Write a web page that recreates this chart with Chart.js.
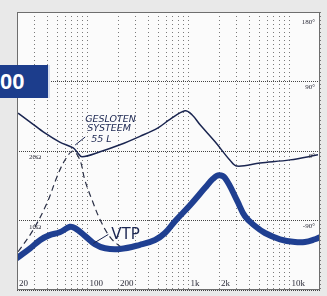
<!DOCTYPE html>
<html>
<head>
<meta charset="utf-8">
<script src="https://cdn.jsdelivr.net/npm/chart.js@4.4.1/dist/chart.umd.min.js"></script>
<style>
  html, body { margin: 0; padding: 0; background: #e9e9e9; }
  #wrap { position: relative; width: 327px; height: 296px; }
  #tag {
    position: absolute; left: 0; top: 65px; width: 48px; height: 33px;
    background: #1c3d8c; color: #fff; border-right: 2px solid #d9e0ee;
    font: bold 22px "Liberation Sans", Arial, sans-serif; line-height: 34px;
    overflow: hidden; white-space: nowrap;
  }
</style>
</head>
<body>
<div id="wrap">
  <canvas id="c" width="327" height="296"></canvas>
  <div id="tag">00</div>
</div>
<script>
// frequency axis (Hz), gridlines and labels
const freqGrid = [20,30,40,50,60,70,80,90,100,200,300,400,500,600,700,800,900,
  1000,2000,3000,4000,5000,6000,7000,8000,9000,10000,20000];
const freqTicks = [20, 100, 200, 1000, 2000, 10000];
const freqTickText = ['20', '100', '200', '1k', '2k', '10k'];
// impedance axis (ohm) and phase axis (degrees)
const ohmTicks = [20, 10];
const ohmTickText = ['20\u03a9', '10\u03a9'];
const degTicks = [180, 90, 0, -90];
const degTickText = ['180\u00b0', '90\u00b0', '0\u00b0', '-90\u00b0'];

// thin line (phase, degrees)
const phaseFreq = [20.5, 27, 38, 53, 72, 80, 88, 133, 209, 330, 498, 654, 921, 1080, 1300, 1830, 2570, 3010, 5100, 10100, 19100];
const phaseDeg  = [49, 37.5, 23, 11.5, 4, -2.5, -7.5, -1, 8, 19, 30, 41, 52, 47, 34, 12, -12, -19.5, -15.5, -11.5, -5];

// closed box 55 L (dashed, ohm)
const closedFreq = [20.5, 28.8, 39.6, 49.8, 59.7, 71.7, 84, 94, 111, 133, 167, 209, 251];
const closedOhm  = [5.5, 8.6, 12.5, 16.3, 18.7, 20, 18.7, 15.8, 12.9, 10.1, 7.6, 6.3, 5.8];

// VTP (thick, ohm)
const vtpFreq = [20, 27, 34, 42, 53, 67, 75, 94, 118, 149, 209, 330, 465, 584, 734, 1033, 1454, 1744, 2000, 2294, 3014, 3618, 4544, 5707, 8036, 11300, 14200, 17850, 20000];
const vtpOhm  = [4.6, 6.0, 7.2, 7.9, 8.3, 9.1, 8.9, 7.8, 6.6, 6.0, 5.9, 6.5, 7.2, 8.2, 9.9, 12.2, 14.7, 16.0, 16.5, 16.1, 12.9, 10.6, 9.2, 8.2, 7.3, 6.9, 6.9, 7.3, 7.6];

const pts = (xs, ys) => xs.map((x, i) => ({ x: x, y: ys[i] }));

const paper = {
  id: 'paper',
  beforeDraw(chart) {
    const { ctx, chartArea: a } = chart;
    ctx.save();
    ctx.fillStyle = '#fbfbfb';
    ctx.fillRect(a.left, a.top, a.right - a.left, a.bottom - a.top);
    ctx.restore();
  },
  afterDraw(chart) {
    const { ctx, chartArea: a, scales } = chart;
    const sx = scales.x, sy = scales.y, sp = scales.y2;
    ctx.save();
    // frame
    ctx.strokeStyle = '#6e6e6e';
    ctx.lineWidth = 1;
    ctx.strokeRect(a.left + 0.5, a.top + 0.5, a.right - a.left - 1, a.bottom - a.top - 1);

    ctx.fillStyle = '#2d2d3a';
    ctx.font = '9px "Liberation Serif", serif';
    ctx.textBaseline = 'alphabetic';
    ctx.textAlign = 'left';
    freqTicks.forEach((f, i) => {
      ctx.fillText(freqTickText[i], sx.getPixelForValue(f) + 2, a.bottom - 4);
    });
    ctx.font = '7px "Liberation Serif", serif';
    ohmTicks.forEach((v, i) => {
      ctx.fillText(ohmTickText[i], a.left + 12, sy.getPixelForValue(v) + 8);
    });
    ctx.textAlign = 'right';
    degTicks.forEach((v, i) => {
      const y = v === 180 ? sp.getPixelForValue(v) + 12 : sp.getPixelForValue(v) + 7;
      ctx.fillText(degTickText[i], a.right - 5, y);
    });

    // annotations
    ctx.strokeStyle = '#1a2550';
    ctx.fillStyle = '#1a2550';
    ctx.lineWidth = 1;
    const jx = sx.getPixelForValue(72), jy = sy.getPixelForValue(20);
    ctx.beginPath();
    ctx.moveTo(jx + 2, jy - 6);
    ctx.lineTo(jx + 12, jy - 14);
    ctx.stroke();
    ctx.textAlign = 'left';
    ctx.font = 'italic 9.5px "DejaVu Sans", sans-serif';
    ctx.fillText('GESLOTEN', jx + 12, jy - 29);
    ctx.fillText('SYSTEEM', jx + 14, jy - 20);
    ctx.fillText('55 L', jx + 18, jy - 9);

    const vx = sx.getPixelForValue(114), vy = sy.getPixelForValue(6.7);
    ctx.beginPath();
    ctx.moveTo(vx, vy);
    ctx.lineTo(vx + 15, vy - 9);
    ctx.stroke();
    ctx.font = '15px "DejaVu Sans", sans-serif';
    ctx.fillText('VTP', vx + 18, vy - 4);
    ctx.restore();
  }
};

new Chart(document.getElementById('c'), {
  type: 'line',
  data: {
    datasets: [
      {
        label: 'VTP',
        data: pts(vtpFreq, vtpOhm),
        yAxisID: 'y',
        borderColor: '#1f3f91',
        borderWidth: 6,
        pointRadius: 0,
        tension: 0.4,
        borderCapStyle: 'round'
      },
      {
        label: 'Gesloten systeem 55 L',
        data: pts(closedFreq, closedOhm),
        yAxisID: 'y',
        borderColor: '#2a2f45',
        borderWidth: 1.2,
        borderDash: [6, 4],
        pointRadius: 0,
        tension: 0.35
      },
      {
        label: 'Fase',
        data: pts(phaseFreq, phaseDeg),
        yAxisID: 'y2',
        borderColor: '#1a2550',
        borderWidth: 1.5,
        pointRadius: 0,
        tension: 0.35
      }
    ]
  },
  options: {
    responsive: false,
    animation: false,
    layout: { padding: { left: 17, top: 12, right: 7, bottom: 6 } },
    plugins: { legend: { display: false }, tooltip: { enabled: false } },
    scales: {
      x: {
        type: 'logarithmic',
        min: 20,
        max: 20000,
        afterBuildTicks: (s) => { s.ticks = freqGrid.map(v => ({ value: v })); },
        ticks: { display: false },
        grid: { color: '#7a7a7a', lineWidth: 1, drawTicks: false },
        border: { display: false, dash: [1, 3] }
      },
      y: {
        type: 'linear',
        min: 0,
        max: 40,
        ticks: { display: false, stepSize: 10 },
        grid: { color: '#444', lineWidth: 1, drawTicks: false },
        border: { display: false, dash: [1, 1] }
      },
      y2: {
        type: 'linear',
        position: 'right',
        display: false,
        min: -180,
        max: 180
      }
    }
  },
  plugins: [paper]
});
</script>
</body>
</html>
